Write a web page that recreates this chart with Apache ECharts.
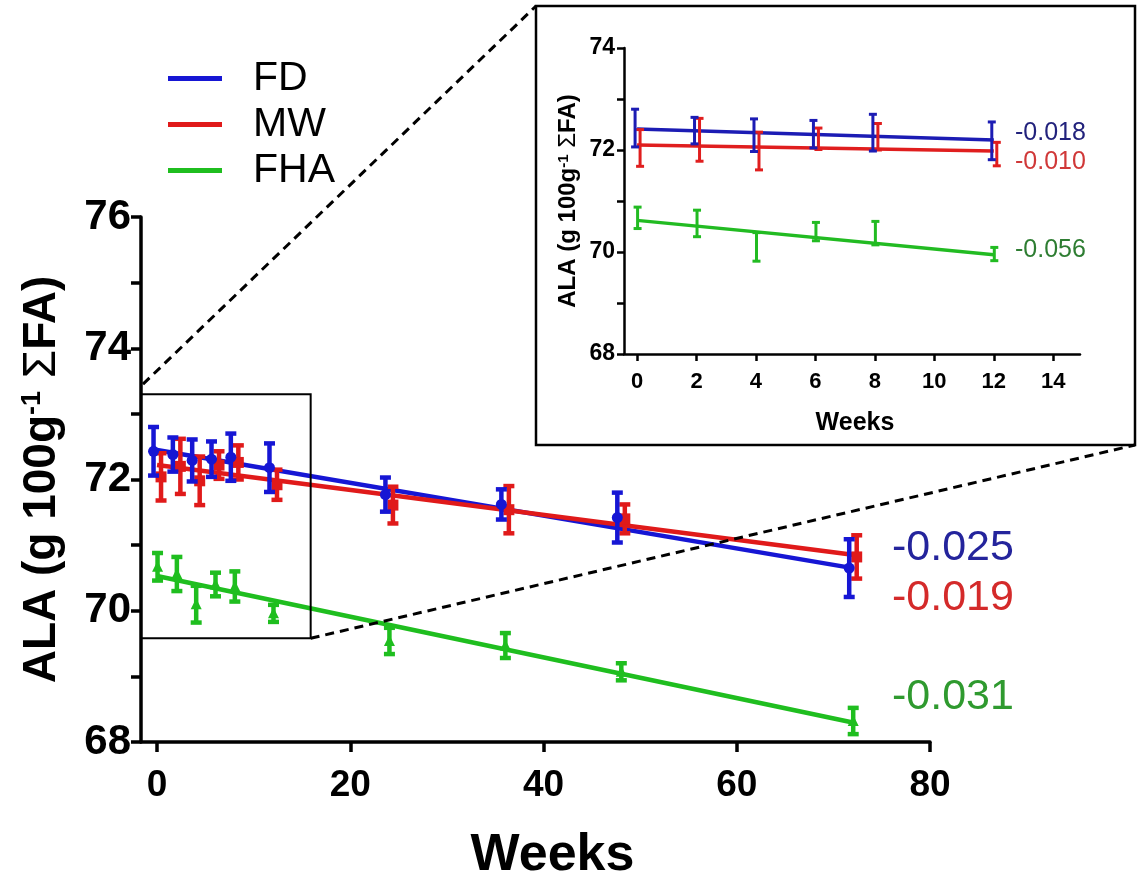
<!DOCTYPE html>
<html>
<head>
<meta charset="utf-8">
<script src="https://cdn.jsdelivr.net/npm/echarts@6/dist/echarts.min.js"></script>
<style>
  html, body { margin: 0; padding: 0; background: #fff; }
  #chart { width: 1139px; height: 884px; }
</style>
</head>
<body>
<div id="chart"></div>
<script>
// ALA content over storage time, three storage groups, mean ± error
const weeks = [0, 2, 4, 6, 8, 12, 24, 36, 48, 72];

const fdMean  = [72.43, 72.38, 72.29, 72.31, 72.34, 72.18, 71.77, 71.62, 71.42, 70.65];
const fdErr   = [0.37, 0.26, 0.32, 0.27, 0.36, 0.37, 0.26, 0.23, 0.38, 0.44];
const mwMean  = [72.04, 72.20, 71.98, 72.22, 72.26, 71.92, 71.61, 71.54, 71.40, 70.82];
const mwErr   = [0.36, 0.42, 0.37, 0.21, 0.26, 0.23, 0.28, 0.36, 0.22, 0.33];
const fhaMean = [70.67, 70.56, 70.10, 70.40, 70.37, 69.96, 69.54, 69.47, 69.07, 68.32];
const fhaErr  = [0.21, 0.26, 0.28, 0.18, 0.23, 0.13, 0.20, 0.19, 0.13, 0.20];

const groupNames = ['FD', 'MW', 'FHA'];

// Linear fits: whole storage period (main plot) and first 12 weeks (inset)
const mainSlopes      = [-0.025, -0.019, -0.031];
const mainIntercepts  = [72.45, 72.22, 70.53];
const insetSlopes     = [-0.018, -0.010, -0.056];
const insetIntercepts = [72.41, 72.10, 70.62];

const mainFitEnd  = 72;
const insetFitEnd = 12;

const mainXTicks  = [0, 20, 40, 60, 80];
const insetXTicks = [0, 2, 4, 6, 8, 10, 12, 14];

// Region of the main plot that the inset enlarges
const zoomRegion = { x0: -1.66, x1: 15.9, y0: 69.58, y1: 73.3 };

// ---------- styling ----------
const FONT = "'Liberation Sans', Arial, Helvetica, sans-serif";
const lineColors  = ['#1616d4', '#e01a1a', '#1fbe1f'];
const insetColors = ['#1c1cb4', '#e01e1e', '#22bb22'];
const mainLabelColors  = ['#24249c', '#d42a2a', '#2f9a2f'];
const insetLabelColors = ['#22227c', '#d03838', '#2e7d32'];
const markerShapes = ['circle', 'square', 'triangle'];
const mainNudge  = [-3.5, 4, 0.5];
const insetNudge = [-2, 3, 0.5];

const groups = [
  { mean: fdMean,  err: fdErr },
  { mean: mwMean,  err: mwErr },
  { mean: fhaMean, err: fhaErr }
];

function pointRows(g, maxWeek) {
  const rows = [];
  weeks.forEach((w, i) => {
    if (w <= maxWeek) rows.push([w, g.mean[i], g.err[i]]);
  });
  return rows;
}

function fitLine(a, b, xEnd) {
  return [[0, a], [xEnd, a + b * xEnd]];
}

function errorBarRenderer(nudge, cap, lw, shape, size, color) {
  return function (params, api) {
    const x = api.value(0), m = api.value(1), e = api.value(2);
    const mid = api.coord([x, m]);
    const top = api.coord([x, m + e]);
    const bot = api.coord([x, m - e]);
    const px = mid[0] + nudge;
    const st = { stroke: color, lineWidth: lw };
    const children = [
      { type: 'line', shape: { x1: px, y1: top[1], x2: px, y2: bot[1] }, style: st },
      { type: 'line', shape: { x1: px - cap / 2, y1: top[1], x2: px + cap / 2, y2: top[1] }, style: st },
      { type: 'line', shape: { x1: px - cap / 2, y1: bot[1], x2: px + cap / 2, y2: bot[1] }, style: st }
    ];
    if (size > 0) {
      if (shape === 'circle') {
        children.push({ type: 'circle', shape: { cx: px, cy: mid[1], r: size / 2 }, style: { fill: color } });
      } else if (shape === 'square') {
        children.push({ type: 'rect', shape: { x: px - size / 2, y: mid[1] - size / 2, width: size, height: size }, style: { fill: color } });
      } else {
        const h = size * 0.9;
        children.push({ type: 'polygon', shape: { points: [[px, mid[1] - h / 2 - 1], [px - size / 2, mid[1] + h / 2], [px + size / 2, mid[1] + h / 2]] }, style: { fill: color } });
      }
    }
    return { type: 'group', children: children };
  };
}

const axisNameRich = (size, supSize) => ({
  sup: { fontSize: supSize, fontWeight: 'bold', fontFamily: FONT, color: '#000', verticalAlign: 'top', lineHeight: size },
  sig: { fontSize: size, fontWeight: 'normal', fontFamily: FONT, color: '#000', lineHeight: size }
});

const series = [];
// main plot fits
groups.forEach((g, k) => {
  series.push({
    name: groupNames[k], type: 'line', xAxisIndex: 0, yAxisIndex: 0,
    data: fitLine(mainIntercepts[k], mainSlopes[k], mainFitEnd),
    symbol: 'none', silent: true, z: 2,
    lineStyle: { color: lineColors[k], width: 4.5 },
    itemStyle: { color: lineColors[k] }
  });
});
// inset fits
groups.forEach((g, k) => {
  series.push({
    name: groupNames[k], type: 'line', xAxisIndex: 1, yAxisIndex: 1,
    data: fitLine(insetIntercepts[k], insetSlopes[k], insetFitEnd),
    symbol: 'none', silent: true, z: 2,
    lineStyle: { color: insetColors[k], width: 3.5 },
    itemStyle: { color: insetColors[k] }
  });
});
// error bars: MW, FD, FHA drawing order
[1, 0, 2].forEach((k) => {
  series.push({
    name: groupNames[k], type: 'custom', xAxisIndex: 0, yAxisIndex: 0, z: 3,
    data: pointRows(groups[k], 1000),
    renderItem: errorBarRenderer(mainNudge[k], 11, 4.5, markerShapes[k], 11, lineColors[k]),
    silent: true
  });
  series.push({
    name: groupNames[k], type: 'custom', xAxisIndex: 1, yAxisIndex: 1, z: 3,
    data: pointRows(groups[k], insetFitEnd),
    renderItem: errorBarRenderer(insetNudge[k], 8, 3, markerShapes[k], 0, insetColors[k]),
    silent: true
  });
});

const option = {
  backgroundColor: '#fff',
  animation: false,
  legend: {
    orient: 'vertical', left: 163, top: 53,
    itemWidth: 54, itemHeight: 5, itemGap: 5, icon: 'rect',
    selectedMode: false,
    data: groupNames,
    textStyle: { fontSize: 41, fontFamily: FONT, color: '#000', lineHeight: 40, padding: [0, 0, 0, 26] }
  },
  grid: [
    { left: 141, right: 209, top: 217, bottom: 142, containLabel: false, outerBoundsMode: 'none' },
    { left: 624, right: 59, top: 48, bottom: 530, containLabel: false, outerBoundsMode: 'none' }
  ],
  xAxis: [
    {
      type: 'value', gridIndex: 0, min: zoomRegion.x0, max: 80,
      axisLine: { onZero: false, lineStyle: { color: '#000', width: 3.5 } },
      axisTick: { customValues: mainXTicks, length: 10, lineStyle: { color: '#000', width: 3.5 } },
      axisLabel: { customValues: mainXTicks, margin: 25, fontSize: 37, fontWeight: 'bold', fontFamily: FONT, color: '#000' },
      splitLine: { show: false },
      name: 'Weeks', nameLocation: 'middle', nameGap: 88,
      nameTextStyle: { fontSize: 52, fontWeight: 'bold', fontFamily: FONT, color: '#000', padding: [0, 0, 0, 34] }
    },
    {
      type: 'value', gridIndex: 1, min: -0.44, max: 14.9,
      axisLine: { onZero: false, lineStyle: { color: '#000', width: 2.5 } },
      axisTick: { customValues: insetXTicks, length: 7, lineStyle: { color: '#000', width: 2.5 } },
      axisLabel: { customValues: insetXTicks, margin: 17, fontSize: 22, fontWeight: 'bold', fontFamily: FONT, color: '#000' },
      splitLine: { show: false },
      name: 'Weeks', nameLocation: 'middle', nameGap: 57,
      nameTextStyle: { fontSize: 25, fontWeight: 'bold', fontFamily: FONT, color: '#000', padding: [0, 0, 0, 6] }
    }
  ],
  yAxis: [
    {
      type: 'value', gridIndex: 0, min: 68, max: 76, interval: 1,
      axisLine: { show: true, onZero: false, lineStyle: { color: '#000', width: 3.5 } },
      axisTick: { show: true, length: 10, lineStyle: { color: '#000', width: 3.5 } },
      axisLabel: { margin: 10, fontSize: 42, fontWeight: 'bold', fontFamily: FONT, color: '#000',
                   formatter: (v) => (v % 2 === 0 ? String(v) : '') },
      splitLine: { show: false },
      name: 'ALA (g 100g{sup|-1} {sig|Σ}FA)', nameLocation: 'middle', nameGap: 76,
      nameTextStyle: { fontSize: 46, fontWeight: 'bold', fontFamily: FONT, color: '#000', rich: axisNameRich(46, 27) }
    },
    {
      type: 'value', gridIndex: 1, min: 68, max: 74, interval: 1,
      axisLine: { show: true, onZero: false, lineStyle: { color: '#000', width: 2.5 } },
      axisTick: { show: true, length: 7, lineStyle: { color: '#000', width: 2.5 } },
      axisLabel: { margin: 9, fontSize: 23, fontWeight: 'bold', fontFamily: FONT, color: '#000',
                   formatter: (v) => (v % 2 === 0 ? String(v) : '') },
      splitLine: { show: false },
      name: 'ALA (g 100g{sup|-1} {sig|Σ}FA)', nameLocation: 'middle', nameGap: 44,
      nameTextStyle: { fontSize: 24, fontWeight: 'bold', fontFamily: FONT, color: '#000', rich: axisNameRich(24, 15) }
    }
  ],
  series: series
};

const chart = echarts.init(document.getElementById('chart'), null, { renderer: 'canvas' });
chart.setOption(option);

// Frame around the enlarged region, inset frame, connecting dashed guides, slope labels
const insetFrame = { x: 536, y: 6, w: 599, h: 439 };
const p0 = chart.convertToPixel({ xAxisIndex: 0, yAxisIndex: 0 }, [zoomRegion.x0, zoomRegion.y1]);
const p1 = chart.convertToPixel({ xAxisIndex: 0, yAxisIndex: 0 }, [zoomRegion.x1, zoomRegion.y0]);

const mainLabelY  = [548, 598, 697];
const insetLabelY = [133, 162, 250];

const graphics = [
  { type: 'rect', shape: { x: p0[0], y: p0[1], width: p1[0] - p0[0], height: p1[1] - p0[1] },
    style: { fill: 'none', stroke: '#000', lineWidth: 2 }, z: 10 },
  { type: 'rect', shape: { x: insetFrame.x, y: insetFrame.y, width: insetFrame.w, height: insetFrame.h },
    style: { fill: 'none', stroke: '#000', lineWidth: 2.5 }, z: 10 },
  { type: 'line', shape: { x1: p0[0] + 2, y1: p0[1] - 10, x2: insetFrame.x, y2: insetFrame.y },
    style: { stroke: '#000', lineWidth: 3, lineDash: [9, 6] }, z: 10 },
  { type: 'line', shape: { x1: p1[0], y1: p1[1], x2: insetFrame.x + insetFrame.w, y2: insetFrame.y + insetFrame.h },
    style: { stroke: '#000', lineWidth: 3, lineDash: [9, 6] }, z: 10 }
];
mainSlopes.forEach((s, k) => {
  graphics.push({ type: 'text', x: 892, y: mainLabelY[k], z: 10,
    style: { text: s.toFixed(3), font: '43px ' + FONT, fill: mainLabelColors[k], textVerticalAlign: 'middle' } });
});
insetSlopes.forEach((s, k) => {
  graphics.push({ type: 'text', x: 1015, y: insetLabelY[k], z: 10,
    style: { text: s.toFixed(3), font: '25px ' + FONT, fill: insetLabelColors[k], textVerticalAlign: 'middle' } });
});
chart.setOption({ graphic: graphics });
</script>
</body>
</html>
